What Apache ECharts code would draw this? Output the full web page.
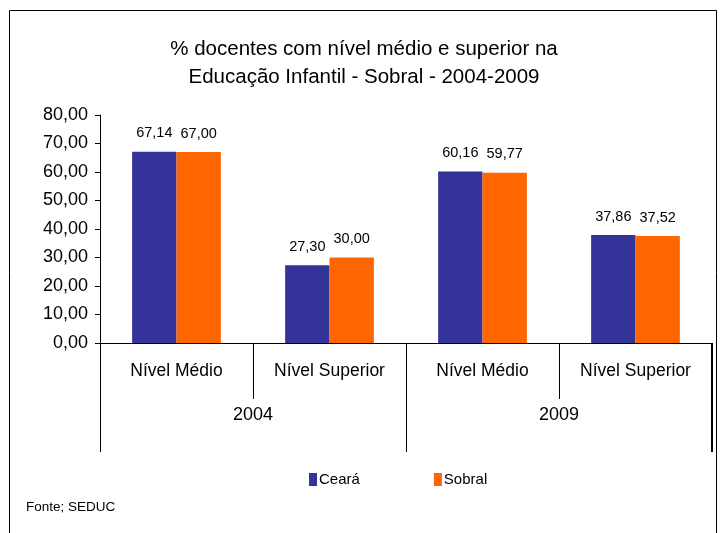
<!DOCTYPE html>
<html><head><meta charset="utf-8">
<script src="https://cdn.jsdelivr.net/npm/echarts@6/dist/echarts.min.js"></script>
<style>html,body{margin:0;padding:0;background:#fff}#c{width:728px;height:533px}</style>
</head><body><div id="c"></div>
<script>
var categories = ['Nível Médio', 'Nível Superior', 'Nível Médio', 'Nível Superior'];
var years = ['2004', '2009'];
var ceara = [67.14, 27.30, 60.16, 37.86];
var sobral = [67.00, 30.00, 59.77, 37.52];
var yTicks = [0, 10, 20, 30, 40, 50, 60, 70, 80];

var fmt = function (v) { return Number(v).toFixed(2).replace('.', ','); };
var catKeys = categories.map(function (c, i) { return c + '|' + i; });
var FONT = 'Liberation Sans';
var GRID = { left: 100, right: 16, top: 115, bottom: 190 };
var W = 728, H = 533;

var chart = echarts.init(document.getElementById('c'));
var xr = W - GRID.right - 0.5, yb = H - GRID.bottom;
chart.setOption({
  animation: false,
  textStyle: { fontFamily: FONT, color: '#000' },
  title: {
    text: '% docentes com nível médio e superior na\nEducação Infantil - Sobral - 2004-2009',
    left: 359, top: 30, textAlign: 'center',
    textStyle: { fontFamily: FONT, fontWeight: 'normal', fontSize: 20.5, color: '#000', lineHeight: 28 }
  },
  legend: {
    left: 304, top: 467, itemWidth: 8, itemHeight: 13, itemGap: 74,
    icon: 'rect',
    textStyle: { fontFamily: FONT, fontSize: 15, color: '#000', padding: [0, 0, 0, -3] },
    data: ['Ceará', 'Sobral']
  },
  grid: GRID,
  xAxis: [
    {
      type: 'category', data: catKeys, position: 'bottom',
      axisLine: { show: true, lineStyle: { color: '#000', width: 1 } },
      axisTick: { show: true, interval: 0, length: 56, lineStyle: { color: '#000' } },
      axisLabel: { margin: 19, interval: 0, fontSize: 17.5, color: '#000', fontFamily: FONT,
        formatter: function (v) { return v.split('|')[0]; } }
    },
    {
      type: 'category', data: years, position: 'bottom',
      axisLine: { show: false },
      axisTick: { show: true, interval: 0, length: 109, lineStyle: { color: '#000' } },
      axisLabel: { margin: 63, interval: 0, fontSize: 18, color: '#000', fontFamily: FONT }
    }
  ],
  yAxis: {
    type: 'value', min: yTicks[0], max: yTicks[yTicks.length - 1], interval: 10,
    axisLine: { show: true, lineStyle: { color: '#000' } },
    axisTick: { show: true, length: 5, lineStyle: { color: '#000' } },
    splitLine: { show: false },
    axisLabel: { fontSize: 18, color: '#000', fontFamily: FONT, margin: 12, formatter: fmt }
  },
  series: [
    {
      name: 'Ceará', type: 'bar', data: ceara, barGap: '0%', barCategoryGap: '42%',
      itemStyle: { color: '#333399' },
      label: { show: true, position: 'top', distance: 11, fontSize: 14.5, color: '#000', fontFamily: FONT,
        formatter: function (p) { return fmt(p.value); } }
    },
    {
      name: 'Sobral', type: 'bar', data: sobral, barGap: '0%', barCategoryGap: '42%',
      itemStyle: { color: '#FF6600' },
      label: { show: true, position: 'top', distance: 11, fontSize: 14.5, color: '#000', fontFamily: FONT,
        formatter: function (p) { return fmt(p.value); } }
    }
  ],
  graphic: [
    { type: 'rect', shape: { x: 9.5, y: 10.5, width: 707, height: 540 },
      style: { fill: 'none', stroke: '#000', lineWidth: 1 }, silent: true, z: 100 },
    { type: 'text', left: 26, top: 500,
      style: { text: 'Fonte; SEDUC', fontFamily: FONT, fontSize: 13.5, fill: '#000' } },
    { type: 'line', shape: { x1: xr, y1: yb, x2: xr, y2: yb + 109 },
      style: { stroke: '#000', lineWidth: 1 }, silent: true, z: 100 }
  ]
});
</script></body></html>
